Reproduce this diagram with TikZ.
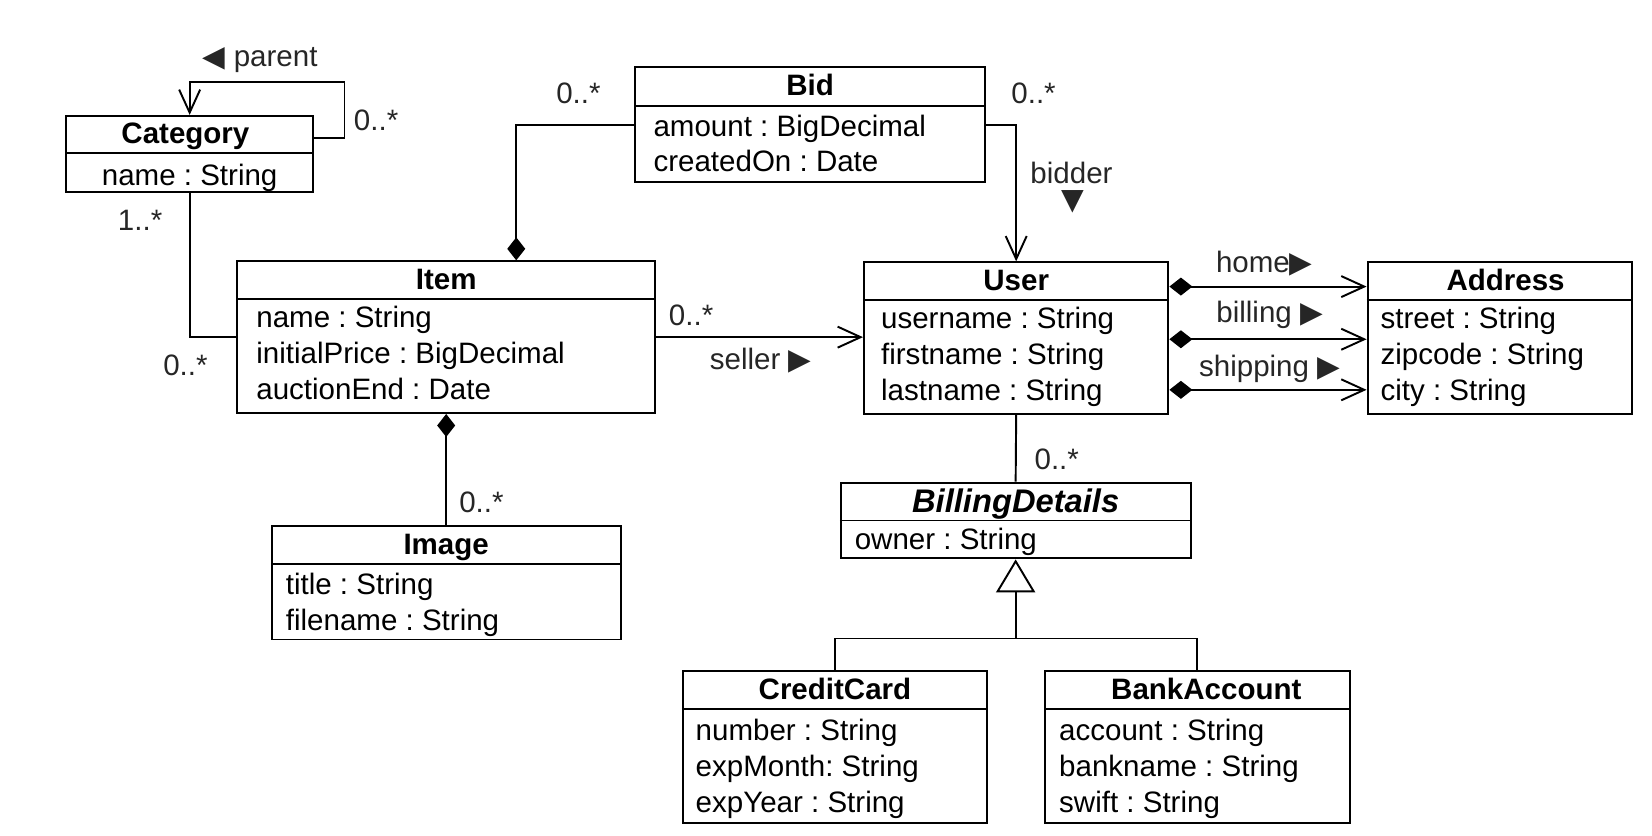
\documentclass[tikz,border=0pt]{standalone}
\usepackage{fontspec}
\setmainfont{Liberation Sans}
\newfontfamily\symfont{DejaVu Sans}
\usetikzlibrary{arrows.meta,fit}
\frenchspacing

\begin{document}
\begin{tikzpicture}[x=0.021071cm, y=-0.021071cm,
    every node/.style={font=\fontsize{16.8}{20}\selectfont, inner sep=0pt},
    classbox/.style={draw, line width=1.1pt, inner sep=0pt},
    title/.style={anchor=base, font=\fontsize{16.8}{20}\selectfont\bfseries},
    attr/.style={anchor=base west},
    mult/.style={text=black!85},
    line/.style={line width=1.1pt},
    assoc/.style={line, -{Straight Barb[length=0.46cm,width=0.42cm]}},
    compose/.style={line, -{Diamond[length=0.46cm,width=0.36cm]}},
    owns/.style={line, {Diamond[length=0.46cm,width=0.36cm]}-{Straight Barb[length=0.46cm,width=0.42cm]}},
    inherit/.style={line, -{Triangle[open,length=0.66cm,width=0.78cm,fill=white]}}]
    \useasboundingbox (0,0) rectangle (1568,793);

    % Category class
    \node[classbox, fit={(63,110) (297,182)}] (category) {};
    \draw[line] (category.west |- 0,145) -- (category.east |- 0,145);
    \node[title] (category-title) at (176,136) {Category};
    \node[anchor=base] (category-name) at (category.center |- 0,176) {name : String};

    % Bid class
    \node[classbox, fit={(603,64) (935,173)}] (bid) {};
    \draw[line] (bid.west |- 0,101) -- (bid.east |- 0,101);
    \node[title] (bid-title) at (bid.center |- 0,91) {Bid};
    \node[attr] (bid-amount) at (620,130) {amount : BigDecimal};
    \node[attr] (bid-created) at (620,163) {createdOn : Date};

    % Item class
    \node[classbox, fit={(225,248) (622,392)}] (item) {};
    \draw[line] (item.west |- 0,284) -- (item.east |- 0,284);
    \node[title] (item-title) at (item.center |- 0,275) {Item};
    \node[attr] (item-name) at (243,311) {name : String};
    \node[attr] (item-price) at (243,345) {initialPrice : BigDecimal};
    \node[attr] (item-end) at (243,379) {auctionEnd : Date};

    % User class
    \node[classbox, fit={(820,249) (1109,393)}] (user) {};
    \draw[line] (user.west |- 0,285) -- (user.east |- 0,285);
    \node[title] (user-title) at (user.center |- 0,276) {User};
    \node[attr] (user-username) at (836,312) {username : String};
    \node[attr] (user-firstname) at (836,346) {firstname : String};
    \node[attr] (user-lastname) at (836,380) {lastname : String};

    % Address class
    \node[classbox, fit={(1298,249) (1549,393)}] (address) {};
    \draw[line] (address.west |- 0,285) -- (address.east |- 0,285);
    \node[title] (address-title) at (1429,276) {Address};
    \node[attr] (address-street) at (1310,312) {street : String};
    \node[attr] (address-zipcode) at (1310,346) {zipcode : String};
    \node[attr] (address-city) at (1310,380) {city : String};

    % Image class
    \node[classbox, fit={(258,499) (589,607)}] (image) {};
    \draw[line] (image.west |- 0,535) -- (image.east |- 0,535);
    \node[title] (image-title) at (image.center |- 0,526) {Image};
    \node[attr] (image-title-attr) at (271,564) {title : String};
    \node[attr] (image-filename) at (271,598) {filename : String};

    % BillingDetails class (abstract)
    \node[classbox, fit={(798,458) (1130,530)}] (billing) {};
    \draw[line] (billing.west |- 0,494) -- (billing.east |- 0,494);
    \node[title, font=\fontsize{18.6}{22}\selectfont\bfseries\itshape] (billing-title) at (billing.center |- 0,486) {BillingDetails};
    \node[attr] (billing-owner) at (811,522) {owner : String};

    % CreditCard class
    \node[classbox, fit={(648,637) (937,781)}] (creditcard) {};
    \draw[line] (creditcard.west |- 0,673) -- (creditcard.east |- 0,673);
    \node[title] (creditcard-title) at (creditcard.center |- 0,664) {CreditCard};
    \node[attr] (creditcard-number) at (660,703) {number : String};
    \node[attr] (creditcard-month) at (660,737) {expMonth: String};
    \node[attr] (creditcard-year) at (660,771) {expYear : String};

    % BankAccount class
    \node[classbox, fit={(992,637) (1281,781)}] (bankaccount) {};
    \draw[line] (bankaccount.west |- 0,673) -- (bankaccount.east |- 0,673);
    \node[title] (bankaccount-title) at (1145,664) {BankAccount};
    \node[attr] (bankaccount-account) at (1005,703) {account : String};
    \node[attr] (bankaccount-bankname) at (1005,737) {bankname : String};
    \node[attr] (bankaccount-swift) at (1005,771) {swift : String};

    % Category parent association
    \draw[assoc] (category.east |- 0,131) -| (327,78) -| (category.north);
    \node[mult] (parent-label) at (247,57) {{\symfont ◀} parent};
    \node[mult] (parent-mult) at (357,114) {0..*};

    % Category - Item
    \draw[line] (category.south) |- (item.west);
    \node[mult] (category-mult) at (133,209) {1..*};
    \node[mult] (item-category-mult) at (176,347) {0..*};

    % Bid - Item composition
    \draw[compose] (bid.west |- 0,119) -| (item.north -| 490,0);
    \node[mult] (bid-item-mult) at (549,89) {0..*};

    % Bid - User (bidder)
    \draw[assoc] (bid.east |- 0,119) -| (user.north);
    \node[mult] (bid-user-mult) at (981,89) {0..*};
    \node[mult] (bidder-label) at (1017,164) {bidder};
    \node[mult] (bidder-sign) at (1018,192) {\symfont ▼};

    % Item - User (seller)
    \draw[assoc] (item.east) -- (user.west |- item.east);
    \node[mult] (seller-mult) at (656,299) {0..*};
    \node[mult] (seller-label) at (722,342) {seller {\symfont ▶}};

    % Item - Image composition
    \draw[compose] (image.north) -- (item.south);
    \node[mult] (image-mult) at (457,477) {0..*};

    % User - Address
    \draw[owns] (user.east |- 0,272) -- (address.west |- 0,272);
    \draw[owns] (user.east |- 0,322) -- (address.west |- 0,322);
    \draw[owns] (user.east |- 0,370) -- (address.west |- 0,370);
    \node[mult] (home-label) at (1200,250) {home{\symfont ▶}};
    \node[mult] (billing-label) at (1205,299) {billing {\symfont ▶}};
    \node[mult] (shipping-label) at (1205,350) {shipping {\symfont ▶}};

    % User - BillingDetails
    \draw[line] (user.south) -- (billing.north);
    \node[mult] (billing-mult) at (1003,436) {0..*};

    % Generalization
    \coordinate (gen) at (billing.south |- 0,606);
    \draw[line] (creditcard.north) |- (bankaccount.north |- gen) -- (bankaccount.north);
    \draw[inherit] (gen) -- (billing.south);
\end{tikzpicture}
\end{document}
